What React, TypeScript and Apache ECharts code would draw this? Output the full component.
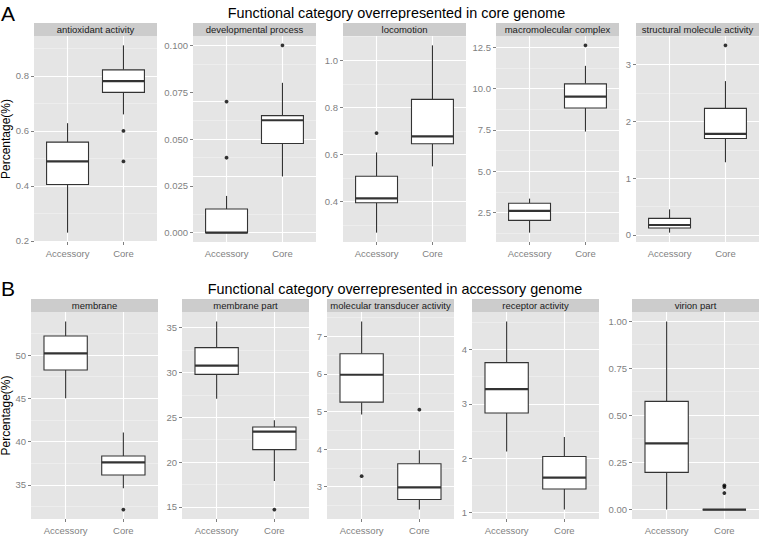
import React, { useEffect, useRef } from 'react';
import * as echarts from 'echarts';

// ---------- text ----------
const groups = ['Accessory', 'Core'];
const rowATitle = 'Functional category overrepresented in core genome';
const rowBTitle = 'Functional category overrepresented in accessory genome';
const yAxisTitle = 'Percentage(%)';
const rowALetter = 'A';
const rowBLetter = 'B';

// ---------- data: [min, Q1, median, Q3, max] for Accessory, Core ----------
// Row A
const antioxidantName = 'antioxidant activity';
const antioxidantBox = [[0.23, 0.405, 0.489, 0.559, 0.628], [0.66, 0.74, 0.781, 0.822, 0.911]];
const antioxidantOutliers = [[], [0.6, 0.489]];
const antioxidantTicks = ['0.2', '0.4', '0.6', '0.8'];

const developmentalName = 'developmental process';
const developmentalBox = [[0, 0, 0, 0.0126, 0.0196], [0.03, 0.0476, 0.06, 0.0625, 0.08]];
const developmentalOutliers = [[0.07, 0.04], [0.1]];
const developmentalTicks = ['0.000', '0.025', '0.050', '0.075', '0.100'];

const locomotionName = 'locomotion';
const locomotionBox = [[0.269, 0.396, 0.414, 0.508, 0.609], [0.55, 0.646, 0.677, 0.834, 1.063]];
const locomotionOutliers = [[0.691], []];
const locomotionTicks = ['0.4', '0.6', '0.8', '1.0'];

const macromolecularName = 'macromolecular complex';
const macromolecularBox = [[1.28, 2.02, 2.6, 3.06, 3.34], [7.4, 8.83, 9.51, 10.29, 11.38]];
const macromolecularOutliers = [[], [12.62]];
const macromolecularTicks = ['2.5', '5.0', '7.5', '10.0', '12.5'];

const structuralName = 'structural molecule activity';
const structuralBox = [[0.04, 0.123, 0.175, 0.292, 0.45], [1.28, 1.7, 1.78, 2.23, 2.71]];
const structuralOutliers = [[], [3.34]];
const structuralTicks = ['0', '1', '2', '3'];

// Row B
const membraneName = 'membrane';
const membraneBox = [[45.0, 48.27, 50.19, 52.19, 53.88], [34.62, 36.15, 37.61, 38.34, 41.04]];
const membraneOutliers = [[], [32.15]];
const membraneTicks = ['35', '40', '45', '50'];

const membranePartName = 'membrane part';
const membranePartBox = [[27.08, 29.79, 30.76, 32.77, 35.7], [17.9, 21.39, 23.4, 23.92, 24.66]];
const membranePartOutliers = [[], [14.7]];
const membranePartTicks = ['15', '20', '25', '30', '35'];

const transducerName = 'molecular transducer activity';
const transducerBox = [[4.92, 5.25, 5.98, 6.54, 7.4], [2.39, 2.66, 2.98, 3.61, 3.97]];
const transducerOutliers = [[3.28], [5.05]];
const transducerTicks = ['3', '4', '5', '6', '7'];

const receptorName = 'receptor activity';
const receptorBox = [[2.12, 2.83, 3.27, 3.76, 4.52], [1.05, 1.43, 1.64, 2.03, 2.39]];
const receptorOutliers = [[], []];
const receptorTicks = ['1', '2', '3', '4'];

const virionName = 'virion part';
const virionBox = [[0, 0.198, 0.352, 0.575, 1.0], [0, 0, 0, 0, 0]];
const virionOutliers = [[], [0.129, 0.12, 0.088]];
const virionTicks = ['0.00', '0.25', '0.50', '0.75', '1.00'];

// ---------- layout (pixels) ----------
const rowALefts = [34, 193, 343, 496, 636];
const rowAWidth = 123;
const rowATop = 36;
const rowAHeight = 206;
const rowBLefts = [31, 182, 327, 472, 632];
const rowBWidth = 127;
const rowBTop = 312;
const rowBHeight = 207;
const stripHeight = 13;

const FONT = 'Liberation Sans, Arial, Helvetica, sans-serif';
const panelBg = '#E5E5E5';
const stripBg = '#CCCCCC';
const axisGrey = '#7F7F7F';
const boxStroke = '#333333';

type Panel = {
  name: string;
  box: number[][];
  outliers: number[][];
  ticks: string[];
  left: number;
  top: number;
  width: number;
  height: number;
};

const rowA = [
  [antioxidantName, antioxidantBox, antioxidantOutliers, antioxidantTicks],
  [developmentalName, developmentalBox, developmentalOutliers, developmentalTicks],
  [locomotionName, locomotionBox, locomotionOutliers, locomotionTicks],
  [macromolecularName, macromolecularBox, macromolecularOutliers, macromolecularTicks],
  [structuralName, structuralBox, structuralOutliers, structuralTicks],
] as any[];
const rowB = [
  [membraneName, membraneBox, membraneOutliers, membraneTicks],
  [membranePartName, membranePartBox, membranePartOutliers, membranePartTicks],
  [transducerName, transducerBox, transducerOutliers, transducerTicks],
  [receptorName, receptorBox, receptorOutliers, receptorTicks],
  [virionName, virionBox, virionOutliers, virionTicks],
] as any[];

const panels: Panel[] = [
  ...rowA.map((r, i) => ({
    name: r[0], box: r[1], outliers: r[2], ticks: r[3],
    left: rowALefts[i], top: rowATop, width: rowAWidth, height: rowAHeight,
  })),
  ...rowB.map((r, i) => ({
    name: r[0], box: r[1], outliers: r[2], ticks: r[3],
    left: rowBLefts[i], top: rowBTop, width: rowBWidth, height: rowBHeight,
  })),
];

function buildOption() {
  const grid: any[] = [];
  const xAxis: any[] = [];
  const yAxis: any[] = [];
  const series: any[] = [];
  const graphic: any[] = [];

  panels.forEach((p, i) => {
    const all: number[] = [];
    p.box.forEach((b) => all.push(...b));
    p.outliers.forEach((o) => all.push(...o));
    const lo = Math.min(...all);
    const hi = Math.max(...all);
    const pad = (hi - lo) * 0.05;
    const yMin = lo - pad;
    const yMax = hi + pad;
    const tickVals = p.ticks.map((t) => parseFloat(t));
    const decimals = (p.ticks[0].split('.')[1] || '').length;
    const step = tickVals[1] - tickVals[0];
    const minor: number[] = [];
    for (let k = -1; k < tickVals.length; k++) {
      const m = tickVals[0] + (k + 0.5) * step;
      if (m > yMin && m < yMax) minor.push(m);
    }

    grid.push({
      left: p.left, top: p.top, width: p.width, height: p.height,
      show: true, backgroundColor: panelBg, borderWidth: 0,
      containLabel: false, outerBoundsMode: 'none',
    });
    xAxis.push({
      gridIndex: i, type: 'value', min: 0.4, max: 2.6,
      axisLine: { show: false },
      axisTick: { show: true, customValues: [1, 2], length: 3, lineStyle: { color: axisGrey, width: 1 } },
      axisLabel: {
        show: true, customValues: [1, 2], color: axisGrey, fontSize: 9.5, fontFamily: FONT, margin: 6,
        formatter: (v: number) => (Math.abs(v - Math.round(v)) < 1e-6 ? groups[Math.round(v) - 1] || '' : ''),
      },
      splitLine: { show: false },
    });
    yAxis.push({
      gridIndex: i, type: 'value', min: yMin, max: yMax,
      axisLine: { show: false },
      axisTick: { show: true, customValues: tickVals, length: 3, lineStyle: { color: axisGrey, width: 1 } },
      axisLabel: {
        show: true, customValues: tickVals, color: axisGrey, fontSize: 9.5, fontFamily: FONT, margin: 5,
        formatter: (v: number) => v.toFixed(decimals),
      },
      splitLine: { show: false },
    });

    // grid lines (drawn beneath the boxes)
    series.push({
      type: 'line', xAxisIndex: i, yAxisIndex: i, data: [], z: 1, silent: true,
      markLine: {
        z: 1, silent: true, symbol: ['none', 'none'], label: { show: false }, animation: false,
        emphasis: { disabled: true },
        lineStyle: { type: 'solid' },
        data: [
          ...minor.map((v) => ({ yAxis: v, lineStyle: { color: '#F2F2F2', width: 0.6, type: 'solid' } })),
          ...tickVals.map((v) => ({ yAxis: v, lineStyle: { color: '#FFFFFF', width: 1.1, type: 'solid' } })),
          ...[1, 2].map((v) => ({ xAxis: v, lineStyle: { color: '#FFFFFF', width: 1.1, type: 'solid' } })),
        ],
      },
    });

    // boxes
    series.push({
      type: 'custom', xAxisIndex: i, yAxisIndex: i, z: 6, silent: true,
      data: p.box.map((b, g) => [g + 1, ...b]),
      encode: { x: 0, y: [1, 2, 3, 4, 5] },
      renderItem: (params: any, api: any) => {
        const x = api.value(0);
        const mn = api.value(1), q1 = api.value(2), md = api.value(3), q3 = api.value(4), mx = api.value(5);
        const hw = 0.375;
        const tl = api.coord([x - hw, q3]);
        const br = api.coord([x + hw, q1]);
        const lm = api.coord([x - hw, md]);
        const rm = api.coord([x + hw, md]);
        const top = api.coord([x, mx]);
        const bot = api.coord([x, mn]);
        return {
          type: 'group',
          children: [
            { type: 'line', shape: { x1: top[0], y1: top[1], x2: top[0], y2: tl[1] }, style: { stroke: boxStroke, lineWidth: 1.1 } },
            { type: 'line', shape: { x1: bot[0], y1: br[1], x2: bot[0], y2: bot[1] }, style: { stroke: boxStroke, lineWidth: 1.1 } },
            { type: 'rect', shape: { x: tl[0], y: tl[1], width: br[0] - tl[0], height: br[1] - tl[1] }, style: { fill: '#FFFFFF', stroke: boxStroke, lineWidth: 1.1 } },
            { type: 'line', shape: { x1: lm[0], y1: lm[1], x2: rm[0], y2: rm[1] }, style: { stroke: boxStroke, lineWidth: 2.2 } },
          ],
        };
      },
    });

    // outliers
    const pts: number[][] = [];
    p.outliers.forEach((o, g) => o.forEach((v) => pts.push([g + 1, v])));
    series.push({
      type: 'scatter', xAxisIndex: i, yAxisIndex: i, z: 7, silent: true,
      data: pts, symbol: 'circle', symbolSize: 3.8,
      itemStyle: { color: '#000000' },
    });

    // strip
    graphic.push({
      type: 'rect', silent: true,
      shape: { x: p.left, y: p.top - stripHeight, width: p.width, height: stripHeight },
      style: { fill: stripBg },
    });
    graphic.push({
      type: 'text', silent: true,
      x: p.left + p.width / 2, y: p.top - stripHeight / 2,
      style: { text: p.name, fill: '#1A1A1A', font: `9.5px ${FONT}`, align: 'center', verticalAlign: 'middle', textAlign: 'center', textVerticalAlign: 'middle' },
    });
  });

  const rowACenter = (rowALefts[0] + rowALefts[4] + rowAWidth) / 2;
  const rowBCenter = (rowBLefts[0] + rowBLefts[4] + rowBWidth) / 2;

  const addText = (text: string, x: number, y: number, size: number, align: string, rotation = 0) => {
    graphic.push({
      type: 'text', silent: true, x, y, rotation,
      style: { text, fill: '#000000', font: `${size}px ${FONT}`, align, verticalAlign: 'middle', textAlign: align, textVerticalAlign: 'middle' },
    });
  };
  addText(rowATitle, rowACenter, 13, 14.4, 'center');
  addText(rowBTitle, rowBCenter, 288.5, 14.4, 'center');
  addText(rowALetter, 1, 13, 21, 'left');
  addText(rowBLetter, 1, 288, 21, 'left');
  addText(yAxisTitle, 6, rowATop + rowAHeight / 2, 12, 'center', Math.PI / 2);
  addText(yAxisTitle, 6, rowBTop + rowBHeight / 2, 12, 'center', Math.PI / 2);

  return {
    animation: false,
    backgroundColor: '#FFFFFF',
    textStyle: { fontFamily: FONT },
    grid, xAxis, yAxis, series, graphic,
  };
}

export default function App() {
  const ref = useRef<HTMLDivElement>(null);
  useEffect(() => {
    if (!ref.current) return;
    const chart = echarts.init(ref.current, undefined, { renderer: 'svg' });
    chart.setOption(buildOption() as any);
    return () => chart.dispose();
  }, []);
  return (
    <div
      ref={ref}
      style={{ position: 'fixed', left: 0, top: 0, width: 760, height: 536, background: '#fff' }}
    />
  );
}
